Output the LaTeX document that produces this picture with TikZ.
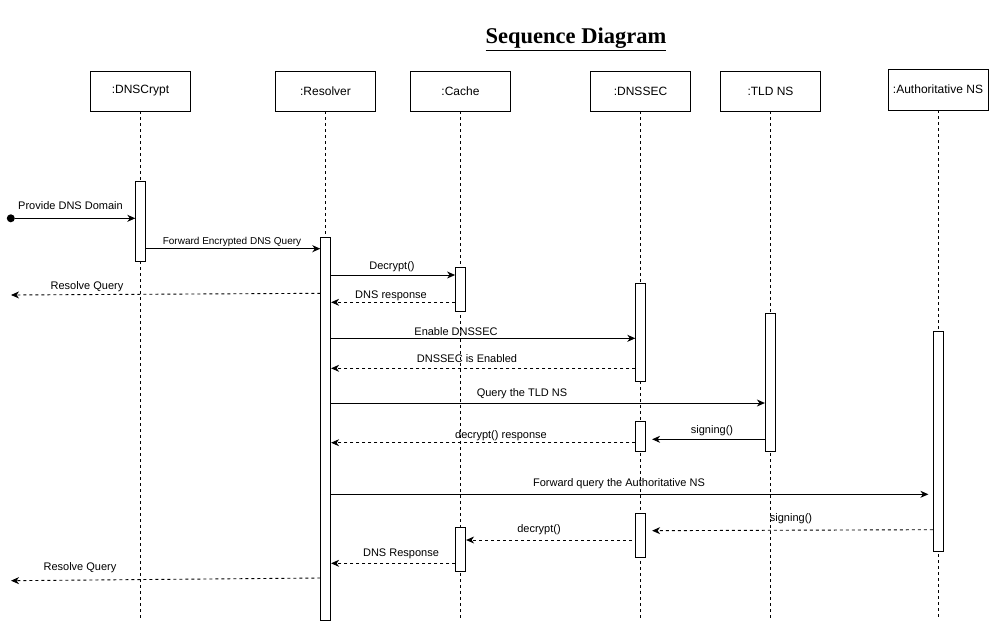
\documentclass[tikz,border=0pt]{standalone}
\usepackage{fontspec}
\setmainfont{Liberation Sans}
\newfontfamily\titlefont{Liberation Serif}
\usetikzlibrary{arrows.meta}
\begin{document}
\begin{tikzpicture}[x=1pt,y=-1pt,
  obj/.style={draw, line width=0.8pt, minimum width=100pt, minimum height=40pt, inner sep=0pt, font=\fontsize{12}{14}\selectfont},
  life/.style={line width=0.8pt, dash pattern=on 3pt off 3pt},
  act/.style={draw, fill=white, line width=0.8pt, minimum width=10pt, inner sep=0pt},
  msg/.style={line width=0.9pt, -{Stealth[length=8pt,width=7pt,inset=2.5pt]}},
  ret/.style={msg, dash pattern=on 3pt off 3pt},
  lbl/.style={font=\fontsize{11}{13}\selectfont, inner sep=0pt},
]
\useasboundingbox (0,0) rectangle (989,622);

% title
\node[font=\titlefont\bfseries\fontsize{22.5}{26}\selectfont, anchor=base, inner sep=0pt] (title) at (576,43.5) {\underline{Sequence Diagram}};

% objects
\node[obj] (dc)   at (140.5,91) {:DNSCrypt};
\node[obj] (res)  at (325.5,91) {:Resolver};
\node[obj] (ca)   at (460.5,91) {:Cache};
\node[obj] (sec)  at (640.5,91) {:DNSSEC};
\node[obj] (tld)  at (770.5,91) {:TLD NS};
\node[obj, minimum height=41pt] (auth) at (938,89.5) {:Authoritative NS};

% lifelines
\foreach \n in {dc,res,ca,sec,tld,auth}
  \draw[life] (\n.south) -- (\n.south |- 0,620);

% activations
\node[act, minimum height=79.3pt] (dcA)   at (140.7,221.3) {};
\node[act, minimum height=383pt]  (resA)  at (325.7,429.2) {};
\node[act, minimum height=44pt]   (caA1)  at (460.5,289.3) {};
\node[act, minimum height=44.4pt] (caA2)  at (460.7,549.5) {};
\node[act, minimum height=98.4pt] (secA1) at (640.7,332.5) {};
\node[act, minimum height=29.3pt] (secA2) at (640.7,436.3) {};
\node[act, minimum height=44pt]   (secA3) at (640.7,535.3) {};
\node[act, minimum height=138pt]  (tldA)  at (770.3,382) {};
\node[act, minimum height=220.3pt] (authA) at (938.3,441.2) {};

% start point and free ends
\node[circle, fill, inner sep=0pt, minimum size=8pt] (start) at (10.8,218.3) {};
\coordinate (rq1) at (11,295);
\coordinate (rq2) at (11,580.7);

% messages
\draw[msg] (start) -- (dcA.west |- 0,218.3);
\node[lbl] (l1) at (70.5,205.5) {Provide DNS Domain};

\draw[msg] (dcA.east |- 0,248.7) -- (resA.west |- 0,248.7);
\node[lbl, font=\fontsize{10}{12}\selectfont] (l2) at (232,241.5) {Forward Encrypted DNS Query};

\draw[ret] (resA.west |- 0,293.3) -- (rq1);
\node[lbl] (l3) at (87,287) {Resolve Query};

\draw[msg] (resA.east |- 0,275) -- (caA1.west |- 0,275);
\node[lbl] (l4) at (392,267) {Decrypt()};

\draw[ret] (caA1.west |- 0,302.3) -- (resA.east |- 0,302.3);
\node[lbl] (l5) at (391,295.5) {DNS response};

\draw[msg] (resA.east |- 0,338.3) -- (secA1.west |- 0,338.3);
\node[lbl] (l6) at (456,332) {Enable DNSSEC};

\draw[ret] (secA1.west |- 0,368.3) -- (resA.east |- 0,368.3);
\node[lbl] (l7) at (467,358.5) {DNSSEC is Enabled};

\draw[msg] (resA.east |- 0,403) -- (tldA.west |- 0,403);
\node[lbl] (l8) at (522,393.5) {Query the TLD NS};

\draw[msg, shorten >=6pt] (tldA.west |- 0,439.3) -- (secA2.east |- 0,439.3);
\node[lbl] (l9) at (712,430.5) {signing()};

\draw[ret] (secA2.west |- 0,442.7) -- (resA.east |- 0,442.7);
\node[lbl] (l10) at (501,435.5) {decrypt() response};

\draw[msg, shorten >=4.5pt] (resA.east |- 0,494.3) -- (authA.west |- 0,494.3);
\node[lbl] (l11) at (619,483.5) {Forward query the Authoritative NS};

\draw[ret, shorten >=6pt] (authA.west |- 0,529.7) -- (secA3.east |- 0,530.7);
\node[lbl] (l12) at (791,518.5) {signing()};

\draw[ret, shorten <=3.5pt] (secA3.west |- 0,540) -- (caA2.east |- 0,540);
\node[lbl] (l13) at (539,529.5) {decrypt()};

\draw[ret] (caA2.west |- 0,563.3) -- (resA.east |- 0,563.3);
\node[lbl] (l14) at (401,553.5) {DNS Response};

\draw[ret] (resA.west |- 0,578) -- (rq2);
\node[lbl] (l15) at (80,568) {Resolve Query};
\end{tikzpicture}
\end{document}
